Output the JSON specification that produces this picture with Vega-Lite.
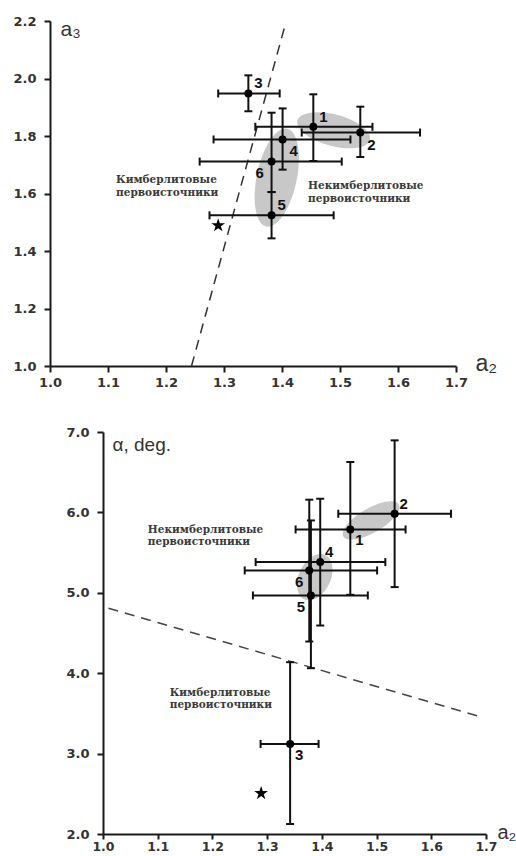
{
  "$schema": "https://vega.github.io/schema/vega-lite/v6.json",
  "padding": {"left": 0, "top": 15, "right": 0, "bottom": 0},
  "config": {
    "view": {"stroke": null},
    "axis": {
      "grid": false, "domainColor": "#1a1a1a", "domainWidth": 2,
      "tickColor": "#1a1a1a", "tickWidth": 2, "tickSize": 6,
      "labelFont": "DejaVu Sans", "labelFontSize": 13, "labelFontWeight": "bold", "labelColor": "#333333",
      "titleFont": "Liberation Sans", "titleFontWeight": "normal", "titleColor": "#333333", "labelFlush": false
    },
    "axisX": {"labelPadding": 4},
    "axisY": {"labelPadding": 8}
  },
  "spacing": 37,
  "datasets": {
    "topPts": [
      {"n": "1", "x": 1.454, "y": 1.832, "xlo": 1.354, "xhi": 1.556, "ylo": 1.713, "yhi": 1.945},
      {"n": "2", "x": 1.535, "y": 1.812, "xlo": 1.434, "xhi": 1.638, "ylo": 1.727, "yhi": 1.902},
      {"n": "3", "x": 1.342, "y": 1.948, "xlo": 1.290, "xhi": 1.396, "ylo": 1.886, "yhi": 2.011},
      {"n": "4", "x": 1.401, "y": 1.788, "xlo": 1.282, "xhi": 1.518, "ylo": 1.683, "yhi": 1.896},
      {"n": "5", "x": 1.382, "y": 1.524, "xlo": 1.275, "xhi": 1.489, "ylo": 1.444, "yhi": 1.605},
      {"n": "6", "x": 1.382, "y": 1.711, "xlo": 1.258, "xhi": 1.503, "ylo": 1.605, "yhi": 1.881}
    ],
    "topStar": [{"x": 1.290, "y": 1.489}],
    "topLine": [{"x": 1.244, "y": 1.0}, {"x": 1.405, "y": 2.183}],
    "topEll": [{"id": "a", "x": 1.489, "y": 1.820}, {"id": "b", "x": 1.391, "y": 1.655}],
    "topTxt": [
      {"t": "Кимберлитовые\nпервоисточники", "x": 1.114, "y": 1.664},
      {"t": "Некимберлитовые\nпервоисточники", "x": 1.445, "y": 1.643}
    ],
    "botPts": [
      {"n": "1", "x": 1.452, "y": 5.788, "xlo": 1.352, "xhi": 1.553, "ylo": 4.975, "yhi": 6.627},
      {"n": "2", "x": 1.533, "y": 5.983, "xlo": 1.430, "xhi": 1.636, "ylo": 5.071, "yhi": 6.896},
      {"n": "3", "x": 1.342, "y": 3.120, "xlo": 1.288, "xhi": 1.394, "ylo": 2.124, "yhi": 4.137},
      {"n": "4", "x": 1.397, "y": 5.382, "xlo": 1.279, "xhi": 1.516, "ylo": 4.593, "yhi": 6.170},
      {"n": "5", "x": 1.380, "y": 4.967, "xlo": 1.274, "xhi": 1.484, "ylo": 4.062, "yhi": 5.900},
      {"n": "6", "x": 1.377, "y": 5.278, "xlo": 1.259, "xhi": 1.501, "ylo": 4.394, "yhi": 6.158}
    ],
    "botStar": [{"x": 1.289, "y": 2.506}],
    "botLine": [{"x": 1.010, "y": 4.809}, {"x": 1.688, "y": 3.461}],
    "botEll": [{"id": "a", "x": 1.490, "y": 5.900}, {"id": "b", "x": 1.387, "y": 5.195}],
    "botTxt": [
      {"t": "Некимберлитовые\nпервоисточники", "x": 1.082, "y": 5.846},
      {"t": "Кимберлитовые\nпервоисточники", "x": 1.122, "y": 3.817}
    ]
  },
  "vconcat": [
    {
      "width": 406,
      "height": 345,
      "layer": [
        {
          "data": {"name": "topPts"},
          "mark": {"type": "circle", "size": 0, "opacity": 0},
          "encoding": {
            "x": {"field": "x", "type": "quantitative", "scale": {"domain": [1.0, 1.7], "zero": false, "nice": false},
              "axis": {"values": [1.0, 1.1, 1.2, 1.3, 1.4, 1.5, 1.6, 1.7], "format": ".1f", "title": "a₂", "titleX": 425, "titleY": 4, "titleAlign": "left", "titleBaseline": "alphabetic", "titleAngle": 0, "titleFontSize": 23}},
            "y": {"field": "y", "type": "quantitative", "scale": {"domain": [1.0, 2.2], "zero": false, "nice": false},
              "axis": {"values": [1.0, 1.2, 1.4, 1.6, 1.8, 2.0, 2.2], "format": ".1f", "title": "a₃", "titleX": 10, "titleY": 14, "titleAlign": "left", "titleBaseline": "alphabetic", "titleAngle": 0, "titleFontSize": 21, "minExtent": 50}}
          }
        },
        {
          "data": {"name": "topEll"},
          "transform": [{"filter": "datum.id == 'a'"}],
          "mark": {"type": "point", "shape": "M -1 0 C -1 -0.232 -0.552 -0.42 0 -0.42 C 0.552 -0.42 1 -0.232 1 0 C 1 0.232 0.552 0.42 0 0.42 C -0.552 0.42 -1 0.232 -1 0 Z", "size": 5625, "angle": 15, "filled": true, "color": "#c8c8c8", "opacity": 1, "strokeWidth": 0},
          "encoding": {"x": {"field": "x", "type": "quantitative"}, "y": {"field": "y", "type": "quantitative"}}
        },
        {
          "data": {"name": "topEll"},
          "transform": [{"filter": "datum.id == 'b'"}],
          "mark": {"type": "point", "shape": "M -1 0 C -1 -0.221 -0.552 -0.4 0 -0.4 C 0.552 -0.4 1 -0.221 1 0 C 1 0.221 0.552 0.4 0 0.4 C -0.552 0.4 -1 0.221 -1 0 Z", "size": 10000, "angle": 102, "filled": true, "color": "#c8c8c8", "opacity": 1, "strokeWidth": 0},
          "encoding": {"x": {"field": "x", "type": "quantitative"}, "y": {"field": "y", "type": "quantitative"}}
        },
        {
          "data": {"name": "topLine"},
          "mark": {"type": "line", "color": "#333333", "strokeWidth": 1.5, "strokeDash": [10, 7]},
          "encoding": {"x": {"field": "x", "type": "quantitative"}, "y": {"field": "y", "type": "quantitative"}}
        },
        {
          "data": {"name": "topPts"},
          "mark": {"type": "rule", "color": "#111111", "strokeWidth": 2},
          "encoding": {"x": {"field": "xlo", "type": "quantitative"}, "x2": {"field": "xhi"}, "y": {"field": "y", "type": "quantitative"}}
        },
        {
          "data": {"name": "topPts"},
          "mark": {"type": "rule", "color": "#111111", "strokeWidth": 2},
          "encoding": {"y": {"field": "ylo", "type": "quantitative"}, "y2": {"field": "yhi"}, "x": {"field": "x", "type": "quantitative"}}
        },
        {
          "data": {"name": "topPts"},
          "mark": {"type": "tick", "orient": "vertical", "size": 8, "thickness": 2, "color": "#111111", "opacity": 1},
          "encoding": {"x": {"field": "xlo", "type": "quantitative"}, "y": {"field": "y", "type": "quantitative"}}
        },
        {
          "data": {"name": "topPts"},
          "mark": {"type": "tick", "orient": "vertical", "size": 8, "thickness": 2, "color": "#111111", "opacity": 1},
          "encoding": {"x": {"field": "xhi", "type": "quantitative"}, "y": {"field": "y", "type": "quantitative"}}
        },
        {
          "data": {"name": "topPts"},
          "mark": {"type": "tick", "orient": "horizontal", "size": 8, "thickness": 2, "color": "#111111", "opacity": 1},
          "encoding": {"x": {"field": "x", "type": "quantitative"}, "y": {"field": "ylo", "type": "quantitative"}}
        },
        {
          "data": {"name": "topPts"},
          "mark": {"type": "tick", "orient": "horizontal", "size": 8, "thickness": 2, "color": "#111111", "opacity": 1},
          "encoding": {"x": {"field": "x", "type": "quantitative"}, "y": {"field": "yhi", "type": "quantitative"}}
        },
        {
          "data": {"name": "topPts"},
          "mark": {"type": "circle", "size": 64, "color": "#000000", "opacity": 1},
          "encoding": {"x": {"field": "x", "type": "quantitative"}, "y": {"field": "y", "type": "quantitative"}}
        },
        {
          "data": {"name": "topStar"},
          "mark": {"type": "point", "shape": "M 0 -1 L 0.225 -0.309 L 0.951 -0.309 L 0.363 0.118 L 0.588 0.809 L 0 0.382 L -0.588 0.809 L -0.363 0.118 L -0.951 -0.309 L -0.225 -0.309 Z", "size": 210, "filled": true, "color": "#000000", "opacity": 1, "strokeWidth": 0},
          "encoding": {"x": {"field": "x", "type": "quantitative"}, "y": {"field": "y", "type": "quantitative"}}
        },
        {
          "data": {"name": "topPts"},
          "transform": [{"filter": {"field": "n", "oneOf": ["1", "3", "5"]}}],
          "mark": {"type": "text", "dx": 10, "dy": -10, "font": "Liberation Sans", "fontSize": 15, "fontWeight": "bold", "color": "#111111"},
          "encoding": {"x": {"field": "x", "type": "quantitative"}, "y": {"field": "y", "type": "quantitative"}, "text": {"field": "n"}}
        },
        {
          "data": {"name": "topPts"},
          "transform": [{"filter": {"field": "n", "oneOf": ["2", "4"]}}],
          "mark": {"type": "text", "dx": 11, "dy": 12, "font": "Liberation Sans", "fontSize": 15, "fontWeight": "bold", "color": "#111111"},
          "encoding": {"x": {"field": "x", "type": "quantitative"}, "y": {"field": "y", "type": "quantitative"}, "text": {"field": "n"}}
        },
        {
          "data": {"name": "topPts"},
          "transform": [{"filter": {"field": "n", "oneOf": ["6"]}}],
          "mark": {"type": "text", "dx": -12, "dy": 11, "font": "Liberation Sans", "fontSize": 15, "fontWeight": "bold", "color": "#111111"},
          "encoding": {"x": {"field": "x", "type": "quantitative"}, "y": {"field": "y", "type": "quantitative"}, "text": {"field": "n"}}
        },
        {
          "data": {"name": "topTxt"},
          "mark": {"type": "text", "align": "left", "baseline": "top", "lineBreak": "\n", "lineHeight": 12.5, "font": "DejaVu Serif", "fontSize": 10.5, "fontWeight": "bold", "color": "#3a3a3a"},
          "encoding": {"x": {"field": "x", "type": "quantitative"}, "y": {"field": "y", "type": "quantitative"}, "text": {"field": "t"}}
        }
      ]
    },
    {
      "width": 436,
      "height": 402,
      "layer": [
        {
          "data": {"name": "botPts"},
          "mark": {"type": "circle", "size": 0, "opacity": 0},
          "encoding": {
            "x": {"field": "x", "type": "quantitative", "scale": {"domain": [1.0, 1.7], "range": [53, 436], "zero": false, "nice": false},
              "axis": {"values": [1.0, 1.1, 1.2, 1.3, 1.4, 1.5, 1.6, 1.7], "format": ".1f", "tickSize": 5, "labelPadding": 1, "labelFontSize": 12.5, "title": "a₂", "titleX": 447, "titleY": 4, "titleAlign": "left", "titleBaseline": "alphabetic", "titleAngle": 0, "titleFontSize": 20}},
            "y": {"field": "y", "type": "quantitative", "scale": {"domain": [2.0, 7.0], "zero": false, "nice": false},
              "axis": {"values": [2, 3, 4, 5, 6, 7], "format": ".1f", "offset": -53, "title": "α, deg.", "titleX": 9, "titleY": 18, "titleAlign": "left", "titleBaseline": "alphabetic", "titleAngle": 0, "titleFontSize": 19}}
          }
        },
        {
          "data": {"name": "botEll"},
          "transform": [{"filter": "datum.id == 'a'"}],
          "mark": {"type": "point", "shape": "M -1 0 C -1 -0.21 -0.552 -0.38 0 -0.38 C 0.552 -0.38 1 -0.21 1 0 C 1 0.21 0.552 0.38 0 0.38 C -0.552 0.38 -1 0.21 -1 0 Z", "size": 4096, "angle": -30, "filled": true, "color": "#c8c8c8", "opacity": 1, "strokeWidth": 0},
          "encoding": {"x": {"field": "x", "type": "quantitative"}, "y": {"field": "y", "type": "quantitative"}}
        },
        {
          "data": {"name": "botEll"},
          "transform": [{"filter": "datum.id == 'b'"}],
          "mark": {"type": "point", "shape": "M -1 0 C -1 -0.359 -0.552 -0.65 0 -0.65 C 0.552 -0.65 1 -0.359 1 0 C 1 0.359 0.552 0.65 0 0.65 C -0.552 0.65 -1 0.359 -1 0 Z", "size": 2400, "angle": 115, "filled": true, "color": "#c8c8c8", "opacity": 1, "strokeWidth": 0},
          "encoding": {"x": {"field": "x", "type": "quantitative"}, "y": {"field": "y", "type": "quantitative"}}
        },
        {
          "data": {"name": "botLine"},
          "mark": {"type": "line", "color": "#444444", "strokeWidth": 1.5, "strokeDash": [10, 7]},
          "encoding": {"x": {"field": "x", "type": "quantitative"}, "y": {"field": "y", "type": "quantitative"}}
        },
        {
          "data": {"name": "botPts"},
          "mark": {"type": "rule", "color": "#111111", "strokeWidth": 2},
          "encoding": {"x": {"field": "xlo", "type": "quantitative"}, "x2": {"field": "xhi"}, "y": {"field": "y", "type": "quantitative"}}
        },
        {
          "data": {"name": "botPts"},
          "mark": {"type": "rule", "color": "#111111", "strokeWidth": 2},
          "encoding": {"y": {"field": "ylo", "type": "quantitative"}, "y2": {"field": "yhi"}, "x": {"field": "x", "type": "quantitative"}}
        },
        {
          "data": {"name": "botPts"},
          "mark": {"type": "tick", "orient": "vertical", "size": 8, "thickness": 2, "color": "#111111", "opacity": 1},
          "encoding": {"x": {"field": "xlo", "type": "quantitative"}, "y": {"field": "y", "type": "quantitative"}}
        },
        {
          "data": {"name": "botPts"},
          "mark": {"type": "tick", "orient": "vertical", "size": 8, "thickness": 2, "color": "#111111", "opacity": 1},
          "encoding": {"x": {"field": "xhi", "type": "quantitative"}, "y": {"field": "y", "type": "quantitative"}}
        },
        {
          "data": {"name": "botPts"},
          "mark": {"type": "tick", "orient": "horizontal", "size": 8, "thickness": 2, "color": "#111111", "opacity": 1},
          "encoding": {"x": {"field": "x", "type": "quantitative"}, "y": {"field": "ylo", "type": "quantitative"}}
        },
        {
          "data": {"name": "botPts"},
          "mark": {"type": "tick", "orient": "horizontal", "size": 8, "thickness": 2, "color": "#111111", "opacity": 1},
          "encoding": {"x": {"field": "x", "type": "quantitative"}, "y": {"field": "yhi", "type": "quantitative"}}
        },
        {
          "data": {"name": "botPts"},
          "mark": {"type": "circle", "size": 64, "color": "#000000", "opacity": 1},
          "encoding": {"x": {"field": "x", "type": "quantitative"}, "y": {"field": "y", "type": "quantitative"}}
        },
        {
          "data": {"name": "botStar"},
          "mark": {"type": "point", "shape": "M 0 -1 L 0.225 -0.309 L 0.951 -0.309 L 0.363 0.118 L 0.588 0.809 L 0 0.382 L -0.588 0.809 L -0.363 0.118 L -0.951 -0.309 L -0.225 -0.309 Z", "size": 210, "filled": true, "color": "#000000", "opacity": 1, "strokeWidth": 0},
          "encoding": {"x": {"field": "x", "type": "quantitative"}, "y": {"field": "y", "type": "quantitative"}}
        },
        {
          "data": {"name": "botPts"},
          "transform": [{"filter": {"field": "n", "oneOf": ["2", "4"]}}],
          "mark": {"type": "text", "dx": 9, "dy": -10, "font": "Liberation Sans", "fontSize": 15, "fontWeight": "bold", "color": "#111111"},
          "encoding": {"x": {"field": "x", "type": "quantitative"}, "y": {"field": "y", "type": "quantitative"}, "text": {"field": "n"}}
        },
        {
          "data": {"name": "botPts"},
          "transform": [{"filter": {"field": "n", "oneOf": ["1", "3"]}}],
          "mark": {"type": "text", "dx": 9, "dy": 11, "font": "Liberation Sans", "fontSize": 15, "fontWeight": "bold", "color": "#111111"},
          "encoding": {"x": {"field": "x", "type": "quantitative"}, "y": {"field": "y", "type": "quantitative"}, "text": {"field": "n"}}
        },
        {
          "data": {"name": "botPts"},
          "transform": [{"filter": {"field": "n", "oneOf": ["5", "6"]}}],
          "mark": {"type": "text", "dx": -10, "dy": 12, "font": "Liberation Sans", "fontSize": 15, "fontWeight": "bold", "color": "#111111"},
          "encoding": {"x": {"field": "x", "type": "quantitative"}, "y": {"field": "y", "type": "quantitative"}, "text": {"field": "n"}}
        },
        {
          "data": {"name": "botTxt"},
          "mark": {"type": "text", "align": "left", "baseline": "top", "lineBreak": "\n", "lineHeight": 12.5, "font": "DejaVu Serif", "fontSize": 10.5, "fontWeight": "bold", "color": "#3a3a3a"},
          "encoding": {"x": {"field": "x", "type": "quantitative"}, "y": {"field": "y", "type": "quantitative"}, "text": {"field": "t"}}
        }
      ]
    }
  ]
}
